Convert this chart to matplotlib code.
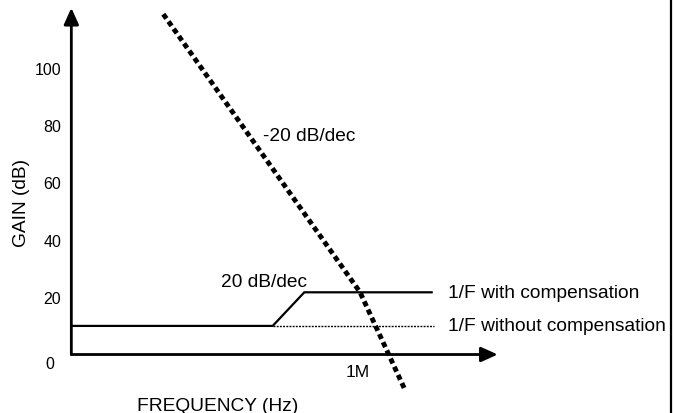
import matplotlib
matplotlib.use("Agg")
import matplotlib.pyplot as plt
from matplotlib.lines import Line2D
from matplotlib.transforms import offset_copy


# ==========================================
# DADOS
# ==========================================

# Rotulos do eixo de ganho (dB)
gain_ticks = [0, 20, 40, 60, 80, 100]

# Ganho em malha aberta (tracejado grosso): Hz, dB
open_loop_f = [17.6, 1.12e6, 1.41e7]
open_loop_db = [119.0, 21.8, -12.4]

# 1/F com compensacao
comp_f = [0.1, 8.26e3, 4.89e4, 6.3e7]
comp_db = [10.0, 10.0, 21.75, 21.75]

# 1/F sem compensacao (parte pontilhada)
nocomp_f = [8.26e3, 7.2e7]
nocomp_db = [10.0, 10.0]

# Eixos (origem e pontas das setas)
axis_origin = (0.1, 0.0)
x_arrow_tip = (2.58e9, 0.0)
y_arrow_tip = (0.1, 121.2)

# ==========================================
# LAYOUT
# ==========================================

FONT = "Liberation Sans"
TXT_SIZE = 13.8
TICK_SIZE = 11.5

plt.rcParams["font.family"] = [FONT, "DejaVu Sans"]

fig = plt.figure(figsize=(6.74, 4.14), dpi=100)
ax = fig.add_axes([0, 0, 1, 1])
ax.set_xscale("log")
ax.set_xlim(10 ** -2.742, 10 ** 13.717)
ax.set_ylim(-20.45, 124.3)
ax.axis("off")

# Setas dos eixos
arrow = dict(arrowstyle="-|>,head_length=1.0,head_width=0.45",
             lw=2.0, color="black", shrinkA=0, shrinkB=0,
             mutation_scale=10)
ax.annotate("", xy=y_arrow_tip, xytext=axis_origin, arrowprops=arrow)
ax.annotate("", xy=x_arrow_tip, xytext=axis_origin, arrowprops=arrow)

# Curvas
ax.plot(nocomp_f, nocomp_db, color="black", lw=1.0,
        linestyle=(0, (1.4, 0.9)))
ax.plot(comp_f, comp_db, color="black", lw=1.6, solid_joinstyle="miter")
ax.plot(open_loop_f, open_loop_db, color="black", lw=3.5,
        linestyle=(0, (1.1, 0.75)), dash_capstyle="butt")

# Rotulos do eixo y (centrados verticalmente nos digitos)
tick_tr = offset_copy(ax.transData, fig=fig, y=-5.5, units="dots")
for v in gain_ticks[1:]:
    ax.text(0.056, v, str(v), ha="right", va="baseline",
            fontsize=TICK_SIZE, transform=tick_tr)
ax.text(0.030, -2.87, str(gain_ticks[0]), ha="center", va="baseline",
        fontsize=TICK_SIZE, transform=tick_tr)

# Textos
ax.text(4.8e3, 75.0, "-20 dB/dec", fontsize=TXT_SIZE, va="baseline")
ax.text(444, 23.85, "20 dB/dec", fontsize=TXT_SIZE, va="baseline")
ax.text(1.58e8, 20.0, "1/F with compensation", fontsize=TXT_SIZE,
        va="baseline")
ax.text(1.58e8, 8.67, "1/F without compensation", fontsize=TXT_SIZE,
        va="baseline")
ax.text(1e6, -7.41, "1M", fontsize=12.5, ha="center", va="baseline")
ax.text(371, -19.3, "FREQUENCY (Hz)", fontsize=TXT_SIZE, ha="center",
        va="baseline")
ax.text(5.9e-3, 53.3, "GAIN (dB)", fontsize=TXT_SIZE, rotation=90,
        ha="center", va="center")

# Borda direita
fig.add_artist(Line2D([671 / 674, 671 / 674], [0, 1], color="black",
                      lw=1.6, transform=fig.transFigure))

fig.savefig("out.png", dpi=100)
